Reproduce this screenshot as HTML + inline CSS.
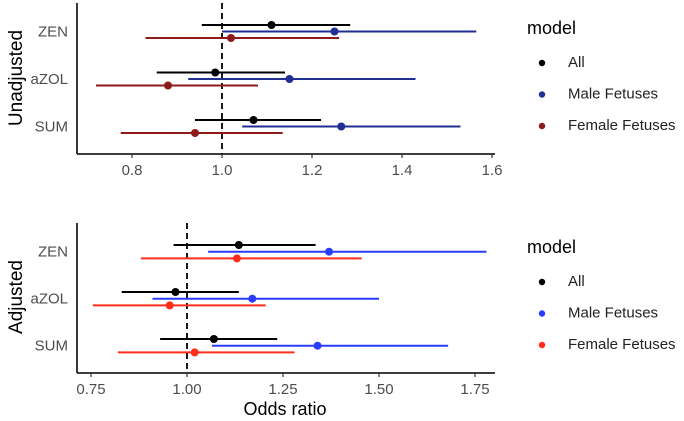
<!DOCTYPE html>
<html><head><meta charset="utf-8"><style>
html,body{margin:0;padding:0;background:#fff;}
svg{display:block;font-family:"Liberation Sans",Arial,sans-serif;}
</style></head><body>
<svg id="chart" width="684" height="421" viewBox="0 0 684 421">
<g id="top"></g>
<g id="bot"></g>
<text x="17" y="78" transform="rotate(-90 17 78)" text-anchor="middle" dominant-baseline="middle" font-size="19" fill="#000">Unadjusted</text>
<text x="17" y="297" transform="rotate(-90 17 297)" text-anchor="middle" dominant-baseline="middle" font-size="19" fill="#000">Adjusted</text>
<text x="285" y="410" text-anchor="middle" dominant-baseline="middle" font-size="18" fill="#000">Odds ratio</text>
</svg>
<script>
const categories = ["ZEN","aZOL","SUM"];
const seriesNames = ["All","Male Fetuses","Female Fetuses"];
const topColors = ["#000000","#1f2f94","#8e1b1b"];
const botColors = ["#000000","#2a3dff","#ff2d1a"];
const unadjAll = [[1.11,0.955,1.285],[0.985,0.855,1.14],[1.07,0.94,1.22]];
const unadjMale = [[1.25,1.0,1.565],[1.15,0.925,1.43],[1.265,1.045,1.53]];
const unadjFemale = [[1.02,0.83,1.26],[0.88,0.72,1.08],[0.94,0.775,1.135]];
const adjAll = [[1.135,0.965,1.335],[0.97,0.83,1.135],[1.07,0.93,1.235]];
const adjMale = [[1.37,1.055,1.78],[1.17,0.91,1.50],[1.34,1.065,1.68]];
const adjFemale = [[1.13,0.88,1.455],[0.955,0.755,1.205],[1.02,0.82,1.28]];
const topTicks = [0.8,1.0,1.2,1.4,1.6];
const topTickLabels = ["0.8","1.0","1.2","1.4","1.6"];
const botTicks = [0.75,1.0,1.25,1.5,1.75];
const botTickLabels = ["0.75","1.00","1.25","1.50","1.75"];

const NS="http://www.w3.org/2000/svg";
function mk(tag,attrs,parent){const e=document.createElementNS(NS,tag);for(const k in attrs)e.setAttribute(k,attrs[k]);parent.appendChild(e);return e;}

function panel(g,cfg){
  const xs=v=>cfg.x0+(v-1)*cfg.scale;
  const rowY=(ci,si)=>cfg.rowTop+ci*cfg.rowStep+si*cfg.subStep;
  let a=mk('line',{x1:77,y1:cfg.top,x2:77,y2:cfg.bottom,stroke:'#222','stroke-width':1.8},g);
  
  
  a=mk('line',{x1:77,y1:cfg.bottom,x2:cfg.right,y2:cfg.bottom,stroke:'#222','stroke-width':1.8},g);
  
  
  a=mk('line',{x1:xs(1),y1:cfg.top,x2:xs(1),y2:cfg.bottom,stroke:'#000','stroke-width':1.8,'stroke-dasharray':'6,4'},g);
  
  
  cfg.ticks.forEach((t,i)=>{
    const l=mk('line',{x1:xs(t),y1:cfg.bottom,x2:xs(t),y2:cfg.bottom+4,stroke:'#333','stroke-width':1.2},g);
    
    
    const tx=mk('text',{x:xs(t),y:cfg.bottom+17,'text-anchor':'middle','dominant-baseline':'middle','font-size':15,fill:'#4d4d4d'},g);
    tx.textContent=cfg.tickLabels[i];
    
    
  });
  categories.forEach((c,ci)=>{
    const tx=mk('text',{x:68,y:rowY(ci,1)+1,'text-anchor':'end','dominant-baseline':'middle','font-size':15,fill:'#4d4d4d'},g);
    tx.textContent=c;
    
    
    cfg.data.forEach((ser,si)=>{
      const d=ser[ci], y=rowY(ci,si);
      const l=mk('line',{x1:xs(d[1]),y1:y,x2:xs(d[2]),y2:y,stroke:cfg.colors[si],'stroke-width':2},g);
      
      
      const p=mk('circle',{cx:xs(d[0]),cy:y,r:4,fill:cfg.colors[si]},g);
      
      
    });
  });
  const t=mk('text',{x:527,y:cfg.legY,'dominant-baseline':'middle','font-size':18,fill:'#000'},g);
  t.textContent='model';
  
  
  seriesNames.forEach((n,si)=>{
    const y=cfg.legY+34+si*31.5;
    const c=mk('circle',{cx:542,cy:y,r:3.2,fill:cfg.colors[si]},g);
    
    
    const tx=mk('text',{x:568,y:y,'dominant-baseline':'middle','font-size':15,fill:'#222'},g);
    tx.textContent=n;
    
    
  });
}
panel(document.getElementById('top'),{x0:222,scale:450,top:3,bottom:154,right:495,rowTop:25,rowStep:47.5,subStep:6.5,ticks:topTicks,tickLabels:topTickLabels,data:[unadjAll,unadjMale,unadjFemale],colors:topColors,legY:29});
panel(document.getElementById('bot'),{x0:187,scale:384,top:223,bottom:373,right:495,rowTop:245,rowStep:47,subStep:6.7,ticks:botTicks,tickLabels:botTickLabels,data:[adjAll,adjMale,adjFemale],colors:botColors,legY:248});
</script>
</body></html>
